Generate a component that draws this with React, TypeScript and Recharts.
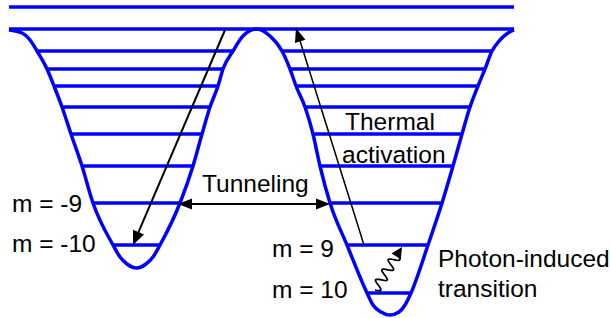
import React from 'react';
import { LineChart, Line, XAxis, YAxis, ReferenceLine, ReferenceDot } from 'recharts';

// Potential energy curve samples (position, energy)
const curveX = [9, 22, 30, 37, 47, 54, 62, 71, 82, 93, 113, 120, 127, 136.5, 146, 153, 160, 180, 193, 202, 210, 218, 223, 233, 243, 257, 270, 282, 290, 296, 305, 313, 320, 330, 347, 367, 373, 381, 390, 399, 405, 411, 428, 442, 453, 462, 470, 478, 485, 492, 500, 508, 514];
const curveE = [288, 285, 278, 267, 249, 232, 211, 184, 152, 115, 73, 61, 54, 50, 54, 61, 73, 115, 152, 184, 211, 232, 249, 267, 282, 289, 282, 267, 249, 232, 211, 184, 152, 115, 73, 25, 13, 6, 3, 6, 13, 25, 73, 115, 152, 184, 211, 232, 249, 267, 278, 285, 288];

// Continuum / barrier lines
const topLineE = 311;
const barrierE = 289;
const spanX = [9, 514];

// Left well levels
const leftLevelE = [267, 249, 232, 211, 184, 152, 115, 73];
const leftLevelX1 = [37, 47, 54, 62, 71, 82, 93, 113];
const leftLevelX2 = [233, 223, 218, 210, 202, 193, 180, 159];

// Right well levels
const rightLevelE = [267, 249, 232, 211, 184, 152, 115, 73, 25];
const rightLevelX1 = [282, 290, 296, 305, 313, 320, 330, 347, 367];
const rightLevelX2 = [492, 485, 478, 470, 462, 453, 442, 428, 411];

// Arrows: [x1, E1, x2, E2]
const tunnelArrow = [178, 114, 330, 114];
const leftDecayArrow = [225, 288, 133, 73];
const thermalArrow = [364, 73, 296, 290];
const photonArrow = [375, 28, 402, 71];

// Labels
const labelText = ['Thermal', 'activation', 'Tunneling', 'm = -9', 'm = -10', 'm = 9', 'm = 10', 'Photon-induced', 'transition'];
const labelX = [345, 342, 202, 12, 12, 272, 272, 438, 438];
const labelE = [188, 155, 126, 106, 66, 61, 20, 51, 21];

const curveData = curveX.map((x, i) => ({ x, E: curveE[i] }));

const BLUE = '#0000ff';

function head(x1: number, y1: number, x2: number, y2: number, len: number, wid: number) {
  const dx = x2 - x1, dy = y2 - y1;
  const L = Math.hypot(dx, dy) || 1;
  const ux = dx / L, uy = dy / L;
  const bx = x2 - ux * len, by = y2 - uy * len;
  const px = -uy * wid / 2, py = ux * wid / 2;
  return `${x2},${y2} ${bx + px},${by + py} ${bx - px},${by - py}`;
}

const arrowShape = (both: boolean, sw: number, len: number, wid: number) => (p: any) => {
  const { x1, y1, x2, y2 } = p;
  const dx = x2 - x1, dy = y2 - y1;
  const L = Math.hypot(dx, dy) || 1;
  const ux = dx / L, uy = dy / L;
  const ex = x2 - ux * len * 0.8, ey = y2 - uy * len * 0.8;
  const sx = both ? x1 + ux * len * 0.8 : x1, sy = both ? y1 + uy * len * 0.8 : y1;
  return (
    <g>
      <line x1={sx} y1={sy} x2={ex} y2={ey} stroke="#000" strokeWidth={sw} />
      <polygon points={head(x1, y1, x2, y2, len, wid)} fill="#000" />
      {both && <polygon points={head(x2, y2, x1, y1, len, wid)} fill="#000" />}
    </g>
  );
};

const wavyShape = (p: any) => {
  const { x1, y1, x2, y2 } = p;
  const dx = x2 - x1, dy = y2 - y1;
  const L = Math.hypot(dx, dy) || 1;
  const ux = dx / L, uy = dy / L;
  const nx = -uy, ny = ux;
  const len = 11;
  const waveLen = L - len + 2;
  const pts: string[] = [];
  const steps = 80;
  for (let i = 0; i <= steps; i++) {
    const t = (i / steps) * waveLen;
    const a = 5 * Math.sin((t / waveLen) * Math.PI * 2 * 3.5);
    pts.push(`${x1 + ux * t + nx * a},${y1 + uy * t + ny * a}`);
  }
  return (
    <g>
      <polyline points={pts.join(' ')} fill="none" stroke="#000" strokeWidth={1.7} />
      <polygon points={head(x1, y1, x2, y2, len, 11)} fill="#000" />
    </g>
  );
};

const textShape = (txt: string) => (p: any) => (
  <text x={p.cx} y={p.cy} fontFamily="'Liberation Sans', Arial, sans-serif" fontSize={24.5} fill="#000">
    {txt}
  </text>
);

const levelLine = (x1: number, x2: number, e: number, key: string) => (
  <ReferenceLine
    key={key}
    segment={[{ x: x1, y: e }, { x: x2, y: e }]}
    stroke={BLUE}
    strokeWidth={3.5}
    ifOverflow="visible"
  />
);

const arrowLine = (a: number[], shape: any, key: string) => (
  <ReferenceLine
    key={key}
    segment={[{ x: a[0], y: a[1] }, { x: a[2], y: a[3] }]}
    shape={shape}
    ifOverflow="visible"
  />
);

export default function App() {
  return (
    <div style={{ position: 'absolute', left: 0, top: 0, width: 610, height: 318, background: '#fff' }}>
      <LineChart width={610} height={318} data={curveData} margin={{ top: 0, right: 0, bottom: 0, left: 0 }}>
        <XAxis dataKey="x" type="number" domain={[0, 610]} hide allowDataOverflow />
        <YAxis type="number" domain={[0, 318]} hide allowDataOverflow width={0} />
        {levelLine(spanX[0], spanX[1], topLineE, 'top')}
        {levelLine(spanX[0], spanX[1], barrierE, 'barrier')}
        {leftLevelE.map((e, i) => levelLine(leftLevelX1[i], leftLevelX2[i], e, 'l' + i))}
        {rightLevelE.map((e, i) => levelLine(rightLevelX1[i], rightLevelX2[i], e, 'r' + i))}
        <Line
          dataKey="E"
          type="monotone"
          stroke={BLUE}
          strokeWidth={3.5}
          dot={false}
          activeDot={false}
          isAnimationActive={false}
        />
        {arrowLine(leftDecayArrow, arrowShape(false, 2, 14, 12), 'a1')}
        {arrowLine(thermalArrow, arrowShape(false, 1.5, 14, 11), 'a2')}
        {arrowLine(tunnelArrow, arrowShape(true, 2, 14, 11), 'a3')}
        {arrowLine(photonArrow, wavyShape, 'a4')}
        {labelText.map((t, i) => (
          <ReferenceDot key={'t' + i} x={labelX[i]} y={labelE[i]} r={0} shape={textShape(t)} ifOverflow="visible" />
        ))}
      </LineChart>
    </div>
  );
}
